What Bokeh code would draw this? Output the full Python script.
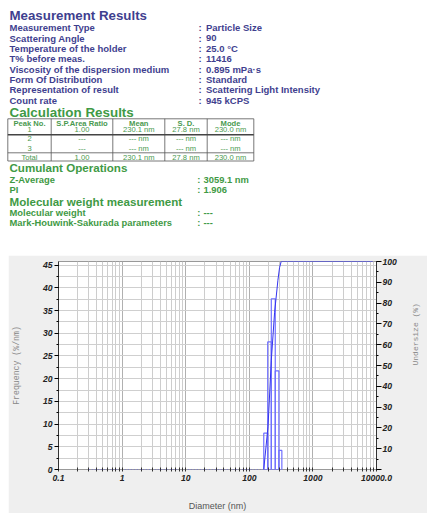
import math
from bokeh.plotting import figure
from bokeh.models import (Range1d, LinearAxis, FixedTicker, SingleIntervalTicker)
from bokeh.core.properties import value
from bokeh.embed import file_html
from bokeh.resources import INLINE

# ---------------- data ----------------
meas_labels = ["Measurement Type", "Scattering Angle", "Temperature of the holder",
               "T% before meas.", "Viscosity of the dispersion medium",
               "Form Of Distribution", "Representation of result", "Count rate"]
meas_values = ["Particle Size", "90", "25.0  \u00b0C", "11416", "0.895 mPa\u00b7s",
               "Standard", "Scattering Light Intensity", "945 kCPS"]

table_header = ["Peak No.", "S.P.Area Ratio", "Mean", "S. D.", "Mode"]
peak_no = ["1", "2", "3", "Total"]
sp_ratio = ["1.00", "---", "---", "1.00"]
mean_nm = ["230.1 nm", "--- nm", "--- nm", "230.1 nm"]
sd_nm = ["27.8 nm", "--- nm", "--- nm", "27.8 nm"]
mode_nm = ["230.0 nm", "--- nm", "--- nm", "230.0 nm"]

cum_labels = ["Z-Average", "PI"]
cum_values = ["3059.1 nm", "1.906"]
mw_labels = ["Molecular weight", "Mark-Houwink-Sakurada parameters"]
mw_values = ["---", "---"]

# histogram bins (nm) and frequency (%/nm)
bin_edges = [168.8, 194.7, 221.8, 255.9, 291.7, 325.0]
frequency = [8.0, 28.1, 37.6, 21.7, 4.2]
# undersize (cumulative) curve
under_x = [168.8, 197.0, 221.8, 250.0, 281.8, 298.9, 316.9, 8700.0]
under_y = [0.0, 20.7, 52.5, 75.6, 91.0, 97.0, 100.0, 100.0]
# zero-frequency dotted segment
zero_x = [0.3, 168.8]
zero_y = [0.0, 0.0]

x_major = [0.1, 1, 10, 100, 1000, 10000]
x_major_labels = ["0.1", "1", "10", "100", "1000", "10000.0"]
x_minor = [m * d for d in [0.1, 1, 10, 100, 1000] for m in range(2, 10)]

NAVY = "#3f3f8f"
GREEN = "#3f9a45"
TGREEN = "#4a9a50"
FONT = "Liberation Sans"

# ---------------- top text block ----------------
TOP_W = 427
TOP_H = 255
top = figure(width=TOP_W, height=TOP_H, x_range=Range1d(-8, TOP_W - 8),
             y_range=Range1d(TOP_H - 8, -8),
             x_axis_type=None, y_axis_type=None, toolbar_location=None,
             output_backend="svg", min_border=0, outline_line_color=None)
top.grid.visible = False


def txt(x, y, t, size, color, style="bold", align="left"):
    top.text(x=x, y=y, text=t, text_font=value(FONT), text_font_size=size,
             text_font_style=style, text_color=color, text_baseline="middle",
             text_align=align)


txt([1], [6.8], ["Measurement Results"], "13.3px", NAVY)
row_y = [19.3 + i * 10.34 for i in range(len(meas_labels))]
txt([1] * len(meas_labels), row_y, meas_labels, "9.5px", NAVY)
txt([190] * len(meas_labels), row_y, [":"] * len(meas_labels), "9.5px", NAVY)
txt([197.5] * len(meas_labels), row_y, meas_values, "9.5px", NAVY)

txt([1], [103.7], ["Calculation Results"], "13.4px", GREEN)

# table
col_edges = [-0.7, 42.7, 104.3, 156.3, 198.7, 245.3]
col_cent = [(col_edges[i] + col_edges[i + 1]) / 2 for i in range(5)]
t_top, t_bot = 110.3, 152.5
top.segment(x0=col_edges, y0=[t_top] * 6, x1=col_edges, y1=[t_bot] * 6,
            line_color="#555555", line_width=0.8)
top.segment(x0=[col_edges[0]] * 3, y0=[t_top, 144.3, t_bot],
            x1=[col_edges[-1]] * 3, y1=[t_top, 144.3, t_bot],
            line_color="#555555", line_width=0.8)
top.segment(x0=[col_edges[0]], y0=[126.3], x1=[col_edges[-1]], y1=[126.3],
            line_color="#444444", line_width=1.4)
txt(col_cent, [115.3] * 5, table_header, "7.6px", TGREEN, align="center")
row_ys = [120.6, 130.4, 139.6, 148.8]
for i in range(4):
    vals = [peak_no[i], sp_ratio[i], mean_nm[i], sd_nm[i], mode_nm[i]]
    txt(col_cent, [row_ys[i]] * 5, vals, "7.6px", TGREEN, style="normal", align="center")

txt([1], [159.3], ["Cumulant Operations"], "11.6px", GREEN)
cy = [171.0, 181.0]
txt([1, 1], cy, cum_labels, "9.4px", GREEN)
txt([188.7, 188.7], cy, [":", ":"], "9.4px", GREEN)
txt([195, 195], cy, cum_values, "9.4px", GREEN)
txt([1], [192.7], ["Molecular weight measurement"], "11.6px", GREEN)
my = [204.3, 214.3]
txt([1, 1], my, mw_labels, "9.4px", GREEN)
txt([188.7, 188.7], my, [":", ":"], "9.4px", GREEN)
txt([195, 195], my, mw_values, "9.4px", GREEN)

# ---------------- chart ----------------
chart = figure(width=419, height=258, x_axis_type="log",
               x_range=Range1d(0.1, 10000), y_range=Range1d(0, 45.8),
               toolbar_location=None, output_backend="svg",
               min_border_left=49, min_border_right=47, min_border_top=6,
               min_border_bottom=43, background_fill_color="white",
               border_fill_color="#efefef", outline_line_color="#999999",
               margin=(0, 0, 0, 8))
chart.extra_y_ranges = {"under": Range1d(0, 100)}

xa = chart.xaxis[0]
xa.ticker = FixedTicker(ticks=x_major, minor_ticks=x_minor)
xa.major_label_overrides = {t: l for t, l in zip(x_major, x_major_labels)}
xa.axis_line_color = None
xa.major_tick_in = 2
xa.major_tick_out = 2
xa.minor_tick_in = 2
xa.minor_tick_out = 2
xa.major_tick_line_color = "#333333"
xa.minor_tick_line_color = "#333333"
xa.major_label_standoff = 3
xa.axis_label = "Diameter (nm)"
xa.axis_label_standoff = 17
xa.axis_label_text_font = FONT
xa.axis_label_text_font_style = "normal"
xa.axis_label_text_font_size = "9px"
xa.axis_label_text_color = "#555555"

ya = chart.yaxis[0]
ya.ticker = SingleIntervalTicker(interval=5, num_minor_ticks=2)
ya.axis_line_color = "#333333"
ya.major_tick_out = 4
ya.major_tick_in = 0
ya.minor_tick_out = 2
ya.minor_tick_in = 0
ya.major_label_standoff = 2
ya.axis_label = "Frequency (%/nm)"
ya.axis_label_standoff = 19
ya.axis_label_text_font = "Liberation Mono"
ya.axis_label_text_font_style = "normal"
ya.axis_label_text_font_size = "8.2px"
ya.axis_label_text_color = "#888888"

ra = LinearAxis(y_range_name="under",
                ticker=SingleIntervalTicker(interval=10, num_minor_ticks=2))
ra.major_label_overrides = {0: ""}
ra.axis_line_color = "#333333"
ra.major_tick_out = 5
ra.major_tick_in = 0
ra.minor_tick_out = 2
ra.minor_tick_in = 0
ra.major_label_standoff = 1
ra.axis_label = "Undersize (%)"
ra.axis_label_standoff = 16
ra.axis_label_text_font = "Liberation Mono"
ra.axis_label_text_font_style = "normal"
ra.axis_label_text_font_size = "8px"
ra.axis_label_text_color = "#888888"
try:
    ra.axis_label_orientation = math.pi / 2
except Exception:
    pass
chart.add_layout(ra, "right")

for ax in (xa, ya, ra):
    ax.major_label_text_font = FONT
    ax.major_label_text_font_style = "bold italic"
    ax.major_label_text_font_size = "8.6px"
    ax.major_label_text_color = "#222222"

chart.xgrid.grid_line_color = "#b0b0b0"
chart.xgrid.minor_grid_line_color = "#cdcdcd"
chart.ygrid.grid_line_color = "#cfcfcf"
chart.ygrid.minor_grid_line_color = "#cfcfcf"
chart.ygrid.grid_line_width = 1.2
chart.ygrid.minor_grid_line_width = 1.2

chart.line(zero_x, zero_y, line_color="#5a5aff", line_dash="1 2", line_width=1)
chart.quad(left=bin_edges[:-1], right=bin_edges[1:], bottom=0, top=frequency,
           fill_color=None, line_color="#6f6fff", line_width=1.2)
chart.line(under_x, under_y, y_range_name="under", line_color="#3333ee", line_width=1)

open("out.html", "w").write(file_html([top, chart], INLINE))
